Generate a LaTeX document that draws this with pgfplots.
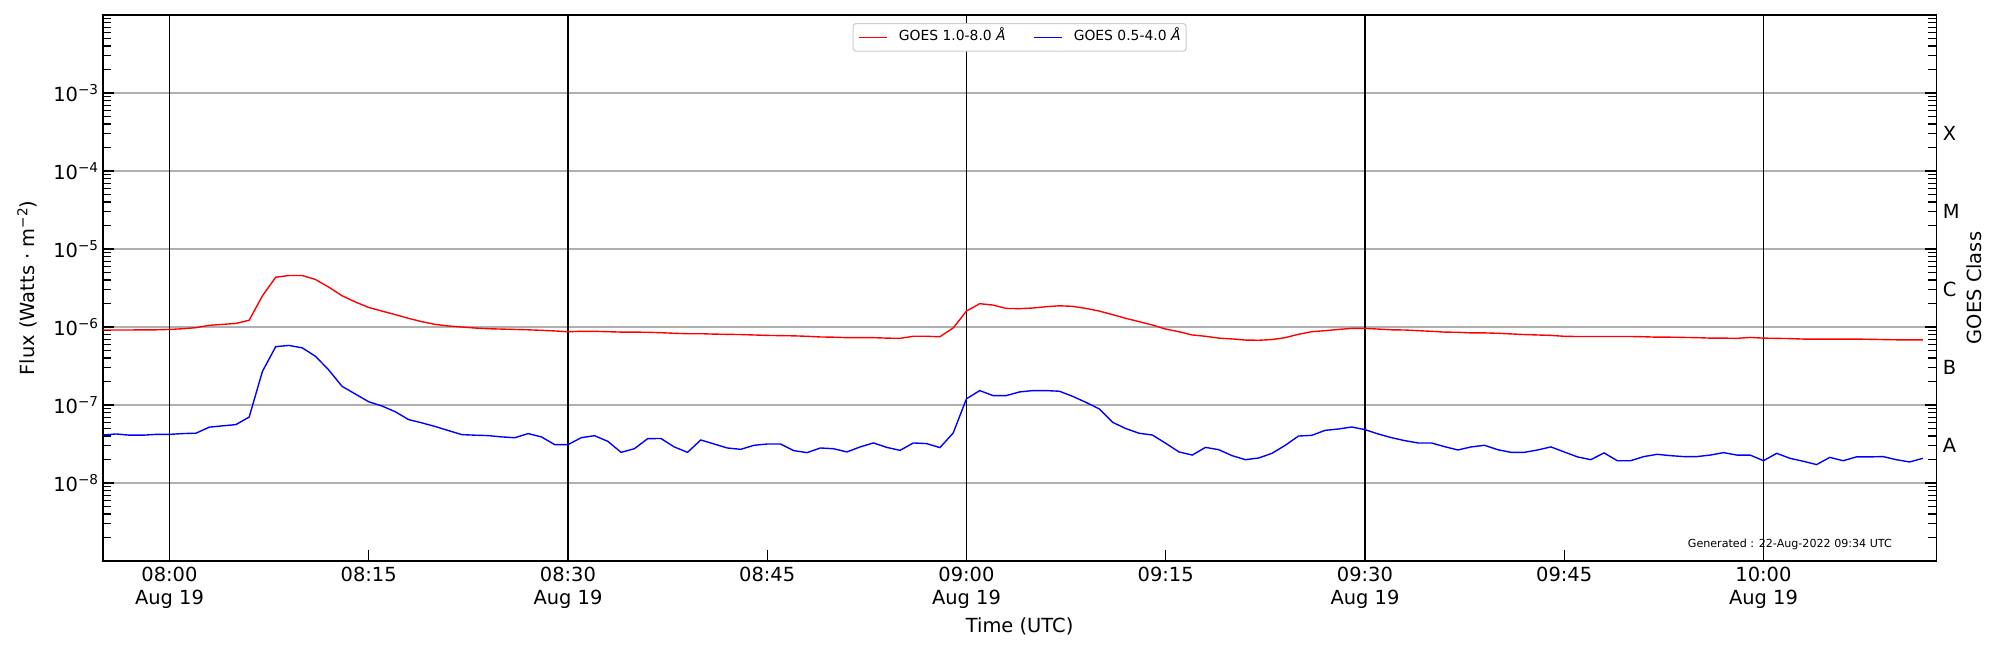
\documentclass[border=0pt]{standalone}
\usepackage{fontspec}
\setmainfont{DejaVu Sans}
\usepackage{pgfplots}
\pgfplotsset{compat=1.18}
\newcommand{\sups}[1]{\raisebox{5pt}{\fontsize{9.8}{10}\selectfont #1}}
\newcommand{\tp}[1]{10\sups{−#1}}

\pgfplotstableread{
t v
-5 9.15e-7
-4 9.15e-7
-3 9.15e-7
-2 9.2e-7
-1 9.2e-7
0 9.3e-7
1 9.5e-7
2 9.8e-7
3 1.05e-6
4 1.08e-6
5 1.11e-6
6 1.22e-6
7 2.51e-6
8 4.35e-6
9 4.57e-6
10 4.57e-6
11 4.06e-6
12 3.24e-6
13 2.51e-6
14 2.09e-6
15 1.78e-6
16 1.6e-6
17 1.44e-6
18 1.29e-6
19 1.17e-6
20 1.08e-6
21 1.03e-6
22 1.0e-6
23 9.7e-7
24 9.5e-7
25 9.4e-7
26 9.3e-7
27 9.2e-7
28 9.06e-7
29 8.9e-7
30 8.7e-7
31 8.8e-7
32 8.8e-7
33 8.7e-7
34 8.6e-7
35 8.6e-7
36 8.55e-7
37 8.45e-7
38 8.3e-7
39 8.2e-7
40 8.2e-7
41 8.1e-7
42 8.05e-7
43 8.0e-7
44 7.9e-7
45 7.8e-7
46 7.75e-7
47 7.7e-7
48 7.6e-7
49 7.45e-7
50 7.4e-7
51 7.3e-7
52 7.3e-7
53 7.3e-7
54 7.2e-7
55 7.15e-7
56 7.6e-7
57 7.6e-7
58 7.5e-7
59 9.7e-7
60 1.6e-6
61 1.99e-6
62 1.91e-6
63 1.73e-6
64 1.72e-6
65 1.75e-6
66 1.82e-6
67 1.87e-6
68 1.84e-6
69 1.73e-6
70 1.6e-6
71 1.44e-6
72 1.29e-6
73 1.17e-6
74 1.06e-6
75 9.4e-7
76 8.7e-7
77 7.9e-7
78 7.6e-7
79 7.2e-7
80 7.03e-7
81 6.8e-7
82 6.76e-7
83 6.9e-7
84 7.3e-7
85 8.06e-7
86 8.7e-7
87 8.97e-7
88 9.3e-7
89 9.6e-7
90 9.6e-7
91 9.4e-7
92 9.2e-7
93 9.15e-7
94 8.97e-7
95 8.8e-7
96 8.6e-7
97 8.55e-7
98 8.4e-7
99 8.4e-7
100 8.3e-7
101 8.15e-7
102 8.0e-7
103 7.9e-7
104 7.8e-7
105 7.6e-7
106 7.55e-7
107 7.55e-7
108 7.55e-7
109 7.55e-7
110 7.55e-7
111 7.5e-7
112 7.4e-7
113 7.4e-7
114 7.35e-7
115 7.3e-7
116 7.2e-7
117 7.2e-7
118 7.15e-7
119 7.35e-7
120 7.2e-7
121 7.15e-7
122 7.1e-7
123 7.0e-7
124 7.0e-7
125 7.0e-7
126 7.0e-7
127 7.0e-7
128 6.95e-7
129 6.9e-7
130 6.85e-7
131 6.85e-7
132 6.85e-7
}\longdata

\pgfplotstableread{
t v
-5 4.12e-8
-4 4.25e-8
-3 4.1e-8
-2 4.1e-8
-1 4.2e-8
0 4.2e-8
1 4.3e-8
2 4.35e-8
3 5.2e-8
4 5.4e-8
5 5.6e-8
6 7.0e-8
7 2.7e-7
8 5.6e-7
9 5.8e-7
10 5.4e-7
11 4.2e-7
12 2.8e-7
13 1.73e-7
14 1.38e-7
15 1.1e-7
16 9.7e-8
17 8.2e-8
18 6.5e-8
19 5.9e-8
20 5.3e-8
21 4.7e-8
22 4.17e-8
23 4.1e-8
24 4.05e-8
25 3.9e-8
26 3.8e-8
27 4.3e-8
28 3.9e-8
29 3.1e-8
30 3.1e-8
31 3.81e-8
32 4.04e-8
33 3.42e-8
34 2.47e-8
35 2.75e-8
36 3.7e-8
37 3.72e-8
38 2.9e-8
39 2.47e-8
40 3.56e-8
41 3.16e-8
42 2.81e-8
43 2.7e-8
44 3.04e-8
45 3.16e-8
46 3.16e-8
47 2.6e-8
48 2.45e-8
49 2.81e-8
50 2.75e-8
51 2.5e-8
52 2.9e-8
53 3.26e-8
54 2.86e-8
55 2.62e-8
56 3.26e-8
57 3.2e-8
58 2.84e-8
59 4.37e-8
60 1.2e-7
61 1.53e-7
62 1.32e-7
63 1.32e-7
64 1.47e-7
65 1.53e-7
66 1.53e-7
67 1.5e-7
68 1.29e-7
69 1.08e-7
70 8.9e-8
71 6.0e-8
72 4.98e-8
73 4.34e-8
74 4.12e-8
75 3.23e-8
76 2.5e-8
77 2.28e-8
78 2.86e-8
79 2.67e-8
80 2.24e-8
81 1.99e-8
82 2.09e-8
83 2.4e-8
84 3.04e-8
85 4.0e-8
86 4.08e-8
87 4.73e-8
88 4.92e-8
89 5.22e-8
90 4.83e-8
91 4.25e-8
92 3.81e-8
93 3.49e-8
94 3.26e-8
95 3.26e-8
96 2.92e-8
97 2.65e-8
98 2.9e-8
99 3.04e-8
100 2.67e-8
101 2.47e-8
102 2.47e-8
103 2.65e-8
104 2.9e-8
105 2.5e-8
106 2.16e-8
107 1.99e-8
108 2.43e-8
109 1.93e-8
110 1.93e-8
111 2.18e-8
112 2.33e-8
113 2.24e-8
114 2.18e-8
115 2.18e-8
116 2.28e-8
117 2.45e-8
118 2.28e-8
119 2.28e-8
120 1.93e-8
121 2.4e-8
122 2.07e-8
123 1.9e-8
124 1.72e-8
125 2.13e-8
126 1.93e-8
127 2.16e-8
128 2.16e-8
129 2.18e-8
130 1.99e-8
131 1.86e-8
132 2.07e-8
}\shortdata

\begin{document}
\begin{tikzpicture}
\path[use as bounding box] (-74.2pt,-64.1pt) rectangle (1365.8pt,403.9pt);
\begin{axis}[
  at={(0,0)}, anchor=south west, scale only axis,
  width=1319.8pt, height=393.1pt,
  xmin=-5, xmax=133, ymode=log, ymin=1e-9, ymax=1e-2,
  axis line style={line width=0.8pt},
  tick style={black, line width=0.8pt},
  major tick length=7.9pt, minor tick length=5.5pt,
  tick align=inside,
  xtick pos=left,
  xtick={0,15,...,120},
  xticklabels={{08:00\\Aug 19},08:15,{08:30\\Aug 19},08:45,{09:00\\Aug 19},09:15,{09:30\\Aug 19},09:45,{10:00\\Aug 19}},
  xticklabel style={align=center, inner sep=0pt, yshift=-4.3pt, font=\fontsize{14}{16.3}\selectfont},
  ytick={1e-9,1e-8,1e-7,1e-6,1e-5,1e-4,1e-3,1e-2},
  yticklabels={{},\tp{8},\tp{7},\tp{6},\tp{5},\tp{4},\tp{3},{}},
  yticklabel style={font=\fontsize{14}{16}\selectfont},
  ymajorgrids, major grid style={color=black!31, line width=0.8pt},
  extra x ticks={0,30,60,90,120}, extra x tick labels={},
  extra x tick style={grid=major, major grid style={black, line width=0.8pt}},
  xlabel={Time (UTC)},
  xlabel style={at={(axis description cs:0.5,-0.119)}, anchor=center, font=\fontsize{14}{16}\selectfont},
  ylabel={Flux (Watts · m\sups{−2})},
  ylabel style={at={(axis description cs:-0.0415,0.5)}, anchor=center, font=\fontsize{14}{16}\selectfont},
  legend columns=2,
  legend style={at={(axis description cs:0.5,1)}, anchor=north, yshift=-5.8pt,
    draw=black!20, rounded corners=2pt, line width=0.8pt,
    font=\fontsize{10}{12}\selectfont,
    inner xsep=4pt, inner ysep=5pt,
    nodes={inner sep=0pt, text height=7.5pt, text depth=2.3pt},
    column sep=8pt,
    /tikz/every even column/.append style={column sep=20pt}},
  legend image code/.code={\draw[#1] (0pt,0pt) -- (20pt,0pt);},
]
\addplot[red, line width=1pt] table[x=t, y=v] {\longdata};
\addlegendentry{GOES 1.0-8.0 \textit{Å}}
\addplot[blue, line width=1pt] table[x=t, y=v] {\shortdata};
\addlegendentry{GOES 0.5-4.0 \textit{Å}}
\node[anchor=base east, inner sep=0pt, font=\fontsize{8}{9.6}\selectfont] at (rel axis cs:0.976,0.0239) {Generated : 22-Aug-2022 09:34 UTC};
\end{axis}
\begin{axis}[
  at={(0,0)}, anchor=south west, scale only axis,
  width=1319.8pt, height=393.1pt,
  xmin=-5, xmax=133, ymode=log, ymin=1e-9, ymax=1e-2,
  hide x axis, axis y line*=right, axis line style={draw=none},
  ytick={3e-8,3e-7,3e-6,3e-5,3e-4},
  yticklabels={A,B,C,M,X},
  tick style={draw=none}, minor ytick={},
  yticklabel style={anchor=west, inner sep=0pt, xshift=4.7pt, font=\fontsize{14}{16}\selectfont},
  ylabel={GOES Class},
  ylabel style={at={(axis description cs:1.0208,0.5)}, anchor=center, font=\fontsize{14}{16}\selectfont},
]
\end{axis}
\end{tikzpicture}
\end{document}
